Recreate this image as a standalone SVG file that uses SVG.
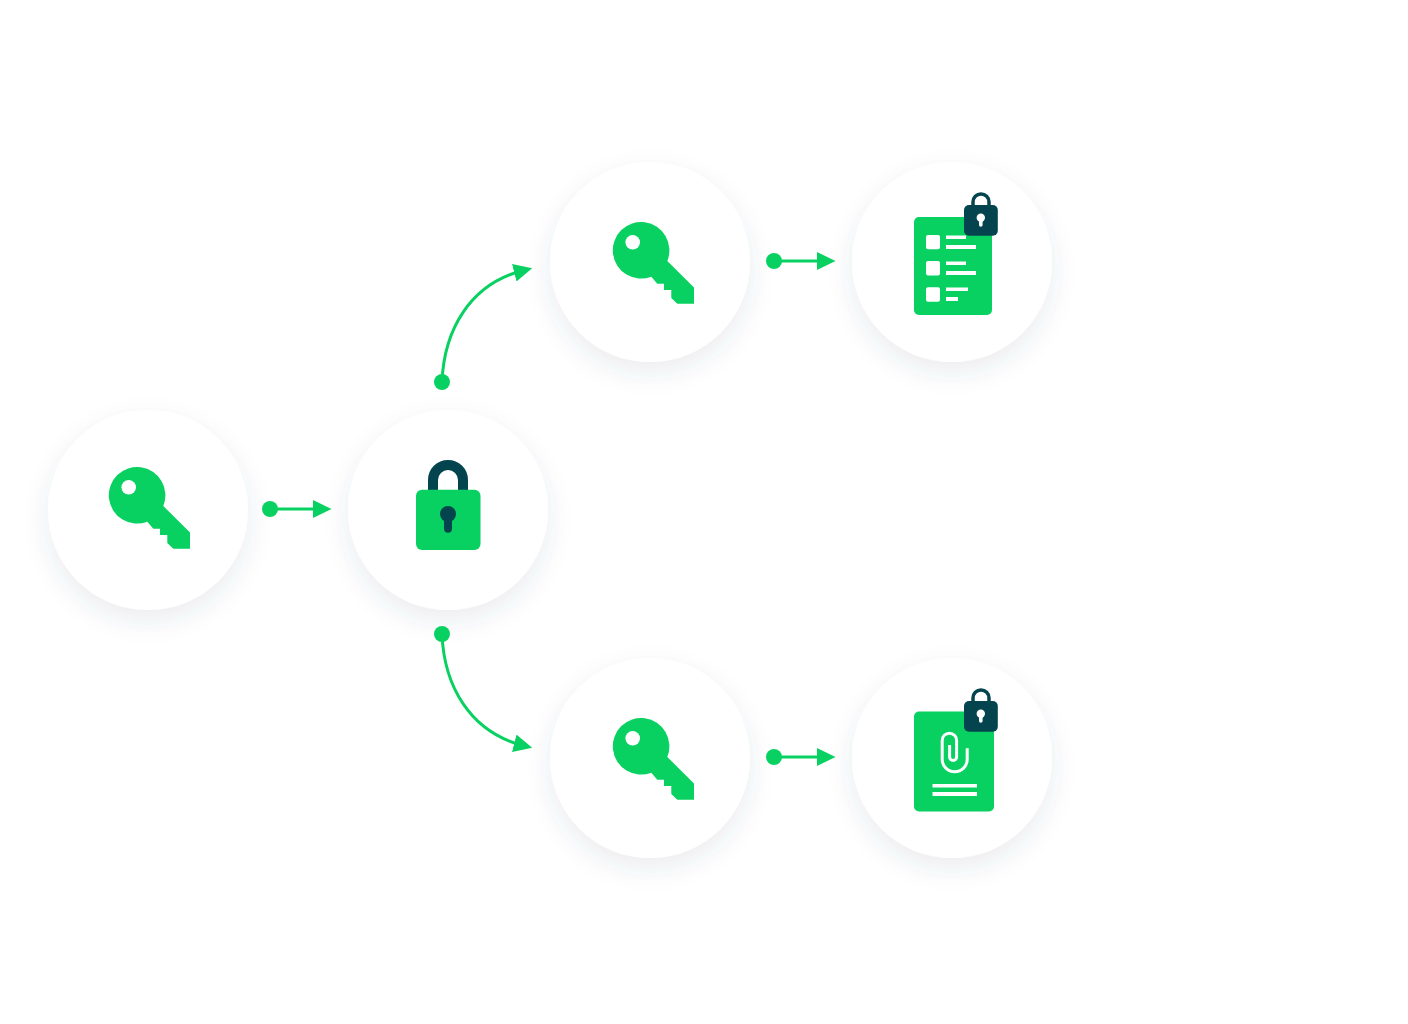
<svg xmlns="http://www.w3.org/2000/svg" xmlns:xlink="http://www.w3.org/1999/xlink" width="1408" height="1024" viewBox="0 0 1408 1024">
<style>
.c{fill:#fff;filter:url(#s)}
.g{fill:#09d161}
.d{fill:#04444f}
.w{fill:#fff}
.l{fill:none;stroke:#09d161;stroke-width:3}
</style>
<defs>
<filter id="s" x="-30%" y="-30%" width="160%" height="170%"><feDropShadow dx="0" dy="10" stdDeviation="12" flood-color="#33505f" flood-opacity="0.1"/></filter>
<marker id="a" markerUnits="userSpaceOnUse" markerWidth="20" markerHeight="20" refX="9" refY="9" orient="auto"><path d="M0 0L18.5 9L0 18Z" fill="#09d161"/></marker>
<symbol id="key" overflow="visible">
<path class="g" d="M163.3 506L190 532.5V548.7H173.3L167.3 543V535H160V528.7H153.3L147.3 521.7A28.3 28.3 0 1 1 163.3 506Z"/>
<circle class="w" cx="128.7" cy="487.3" r="7.3"/>
</symbol>
<symbol id="mini" overflow="visible">
<path d="M973 207V202a8 8 0 0 1 16 0V207" fill="none" stroke="#04444f" stroke-width="3.5"/>
<rect class="d" x="964" y="205" width="33.8" height="30.8" rx="5"/>
<circle class="w" cx="980.8" cy="217.8" r="4.2"/>
<path class="w" d="M979 219H982.6V225a1.8 1.8 0 0 1-3.6 0Z"/>
</symbol>
</defs>
<rect width="1408" height="1024" fill="#fff"/>
<g id="node-key-start"><circle class="c" cx="148" cy="510" r="100"/><use xlink:href="#key" href="#key"/></g>
<g id="node-lock"><circle class="c" cx="448" cy="510" r="100"/>
<path d="M433 492V480a15 15 0 0 1 30 0V492" fill="none" stroke="#04444f" stroke-width="10"/>
<rect class="g" x="416" y="489.7" width="64.5" height="60.3" rx="6"/>
<circle class="d" cx="448" cy="514" r="8"/>
<path class="d" d="M444 516H452V528.7a4 4 0 0 1-8 0Z"/>
</g>
<g id="node-key-top"><circle class="c" cx="650" cy="262" r="100"/><use xlink:href="#key" href="#key" x="504" y="-245"/></g>
<g id="node-key-bottom"><circle class="c" cx="650" cy="758" r="100"/><use xlink:href="#key" href="#key" x="504" y="251"/></g>
<g id="node-doc-list"><circle class="c" cx="952" cy="262" r="100"/>
<rect class="g" x="914" y="217" width="78" height="98" rx="5"/>
<g class="w">
<rect x="926" y="235" width="14" height="14.3" rx="2"/><rect x="926" y="261" width="14" height="14.5" rx="2"/><rect x="926" y="287.3" width="14" height="14.4" rx="2"/>
<rect x="946" y="235.5" width="20" height="3.5"/><rect x="946" y="245" width="30" height="4"/>
<rect x="946" y="261.5" width="20" height="3.5"/><rect x="946" y="271" width="30" height="4"/>
<rect x="946" y="287.5" width="22" height="3.5"/><rect x="946" y="297" width="12" height="4"/>
</g>
<use xlink:href="#mini" href="#mini"/>
</g>
<g id="node-doc-attach"><circle class="c" cx="952" cy="758" r="100"/>
<rect class="g" x="914" y="711.5" width="80" height="100" rx="5"/>
<g class="w"><rect x="932.5" y="784" width="44.5" height="3.5"/><rect x="932.5" y="792" width="44.5" height="4"/></g>
<path d="M967.2 748.3V759.3a12.5 12.5 0 0 1-25 0V740.4a7.2 7.2 0 0 1 14.4 0V757a3.5 3.5 0 0 1-7 0V745" fill="none" stroke="#fff" stroke-width="3"/>
<use xlink:href="#mini" href="#mini" y="496"/>
</g>
<g id="connectors">
<path class="l" marker-end="url(#a)" d="M270 509H322"/>
<path class="l" marker-end="url(#a)" d="M774 261H826"/>
<path class="l" marker-end="url(#a)" d="M774 757H826"/>
<path class="l" marker-end="url(#a)" d="M442 382C444 330 470 284 523 270.5"/>
<path class="l" marker-end="url(#a)" d="M442 634C444 686 470 732 523 745.5"/>
<g class="g"><circle cx="270" cy="509" r="8"/><circle cx="774" cy="261" r="8"/><circle cx="774" cy="757" r="8"/><circle cx="442" cy="382" r="8"/><circle cx="442" cy="634" r="8"/></g>
</g>
</svg>
